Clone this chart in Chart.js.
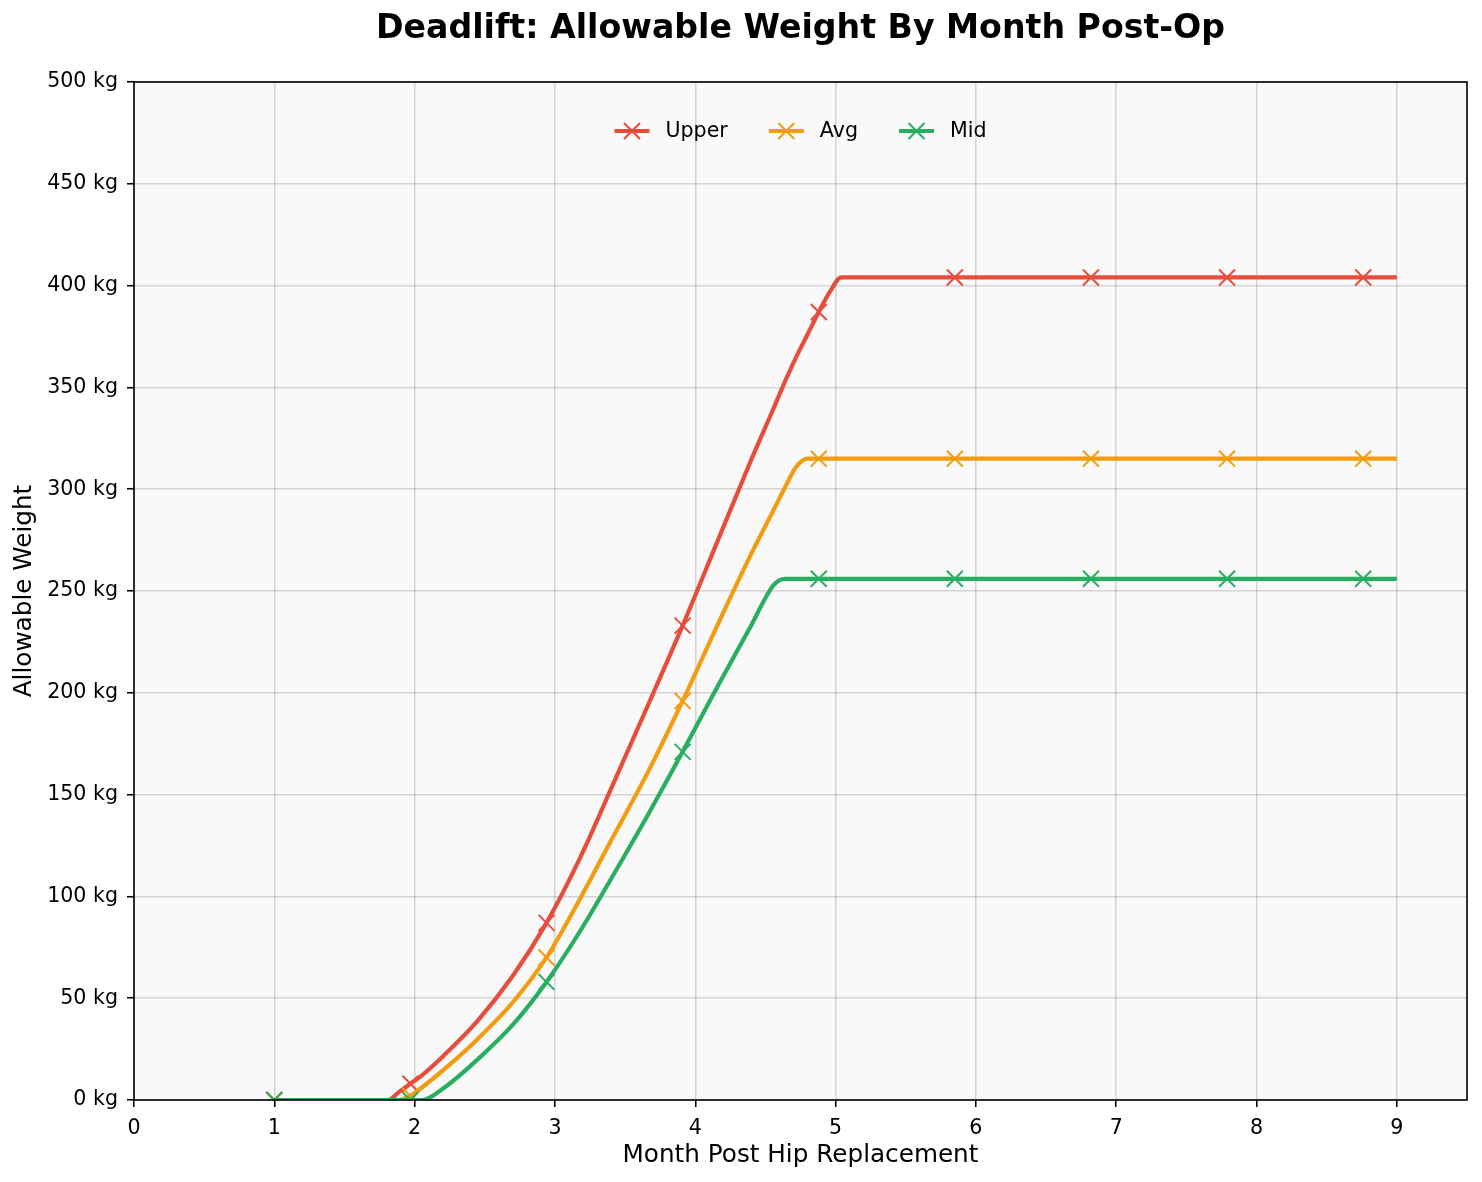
<!DOCTYPE html>
<html>
<head>
<meta charset="utf-8">
<script src="https://cdn.jsdelivr.net/npm/chart.js@4.4.1/dist/chart.umd.min.js"></script>
<style>
  html, body { margin: 0; padding: 0; background: #fff; }
  #wrap { width: 1482px; height: 1182px; position: relative; }
</style>
</head>
<body>
<div id="wrap"><canvas id="myChart"></canvas></div>
<script>
// months after surgery (x) and allowable weight in kg per line
const months  = [1.00, 1.81, 1.89, 1.97, 2.05, 2.21, 2.45, 2.70, 2.94, 3.18, 3.42, 3.67, 3.91, 4.15, 4.39, 4.56, 4.64, 4.72, 4.80, 4.88, 4.96, 5.04, 5.85, 6.82, 7.79, 8.76, 9.00];
const upperKg = [0, 0, 4, 8, 12, 22, 39, 61, 87, 119, 156, 195, 233, 273, 313, 340, 353, 365, 376, 387, 397, 404, 404, 404, 404, 404, 404];
const avgKg   = [0, 0, 0, 2, 6, 15, 30, 48, 70, 99, 130, 162, 196, 232, 267, 290, 301, 311, 315, 315, 315, 315, 315, 315, 315, 315, 315];
const midKg   = [0, 0, 0, 0, 0, 6, 20, 37, 58, 83, 111, 141, 171, 202, 232, 253, 256, 256, 256, 256, 256, 256, 256, 256, 256, 256, 256];
const markerMonths = [1.00, 1.97, 2.94, 3.91, 4.88, 5.85, 6.82, 7.79, 8.76];

const seriesNames = ['Upper', 'Avg', 'Mid'];
const seriesColors = ['#e74c3c', '#f39c12', '#27ae60'];

const FONT = 'DejaVu Sans';
const tickFont = { family: FONT, size: 20.6 };
const labelFont = { family: FONT, size: 24.7 };

function toPoints(values) {
    return months.map((m, i) => ({ x: m, y: values[i] }));
}
const markerRadius = months.map(m => markerMonths.includes(m) ? 11.3 : 0);

function makeDataset(idx, values) {
    return {
        label: seriesNames[idx],
        data: toPoints(values),
        borderColor: seriesColors[idx],
        backgroundColor: seriesColors[idx],
        borderWidth: 4.2,
        fill: false,
        cubicInterpolationMode: 'monotone',
        pointStyle: 'crossRot',
        pointRadius: markerRadius,
        pointHoverRadius: markerRadius,
        pointBorderWidth: 2,
        pointBorderColor: seriesColors[idx],
        order: 3 - idx
    };
}

const plotBg = {
    id: 'plotBg',
    beforeDraw(chart) {
        const { ctx, chartArea: a } = chart;
        ctx.save();
        ctx.fillStyle = '#f9f9f9';
        ctx.fillRect(a.left, a.top, a.right - a.left, a.bottom - a.top);
        ctx.restore();
    }
};

const frameAndText = {
    id: 'frameAndText',
    afterDatasetsDraw(chart) {
        const { ctx, chartArea: a } = chart;
        ctx.save();
        ctx.strokeStyle = '#000';
        ctx.lineWidth = 1.6;
        ctx.strokeRect(a.left, a.top, a.right - a.left, a.bottom - a.top);
        ctx.restore();
    },
    afterDraw(chart) {
        const { ctx, chartArea: a } = chart;
        ctx.save();
        // title
        ctx.fillStyle = '#000';
        ctx.font = 'bold 33.2px "' + FONT + '"';
        ctx.textAlign = 'center';
        ctx.textBaseline = 'middle';
        ctx.fillText('Deadlift: Allowable Weight By Month Post-Op', (a.left + a.right) / 2, 29);

        // legend inside the plot, top centre
        ctx.font = '20.6px "' + FONT + '"';
        const lineLen = 35, textGap = 16, entryGap = 41;
        const widths = seriesNames.map(n => ctx.measureText(n).width);
        let total = 0;
        widths.forEach((w, i) => { total += lineLen + textGap + w + (i < widths.length - 1 ? entryGap : 0); });
        let x = (a.left + a.right) / 2 - total / 2;
        const y = 131;
        seriesNames.forEach((name, i) => {
            ctx.strokeStyle = seriesColors[i];
            ctx.lineWidth = 4.2;
            ctx.beginPath();
            ctx.moveTo(x, y);
            ctx.lineTo(x + lineLen, y);
            ctx.stroke();
            const cx = x + lineLen / 2, r = 8;
            ctx.lineWidth = 2;
            ctx.beginPath();
            ctx.moveTo(cx - r, y - r); ctx.lineTo(cx + r, y + r);
            ctx.moveTo(cx - r, y + r); ctx.lineTo(cx + r, y - r);
            ctx.stroke();
            ctx.fillStyle = '#000';
            ctx.textAlign = 'left';
            ctx.fillText(name, x + lineLen + textGap, y + 1);
            x += lineLen + textGap + widths[i] + entryGap;
        });
        ctx.restore();
    }
};

const gridStyle = {
    color: 'rgba(0,0,0,0.15)',
    lineWidth: 1.5,
    tickColor: '#000',
    tickWidth: 1.6,
    tickLength: 7
};

document.addEventListener('DOMContentLoaded', function () {
    const ctx = document.getElementById('myChart').getContext('2d');
    new Chart(ctx, {
        type: 'line',
        data: {
            datasets: [makeDataset(0, upperKg), makeDataset(1, avgKg), makeDataset(2, midKg)]
        },
        options: {
            responsive: true,
            maintainAspectRatio: false,
            devicePixelRatio: 1,
            animation: false,
            layout: { padding: { top: 82, right: 15, left: 0, bottom: 0 } },
            plugins: {
                legend: { display: false },
                tooltip: { enabled: false }
            },
            scales: {
                x: {
                    type: 'linear',
                    min: 0,
                    max: 9.5,
                    afterBuildTicks: s => { s.ticks = s.ticks.filter(t => Number.isInteger(t.value)); },
                    afterFit: s => { s.height = 82; },
                    ticks: { stepSize: 1, font: tickFont, color: '#000', padding: 9, maxRotation: 0 },
                    grid: gridStyle,
                    border: { display: false },
                    title: {
                        display: true,
                        text: 'Month Post Hip Replacement',
                        font: labelFont,
                        color: '#000',
                        padding: { top: 0, bottom: 12 }
                    }
                },
                y: {
                    min: 0,
                    max: 500,
                    afterFit: s => { s.width = 134; },
                    ticks: {
                        stepSize: 50,
                        font: tickFont,
                        color: '#000',
                        padding: 9,
                        callback: v => v + ' kg'
                    },
                    grid: gridStyle,
                    border: { display: false },
                    title: {
                        display: true,
                        text: 'Allowable Weight',
                        font: labelFont,
                        color: '#000',
                        padding: { top: 10, bottom: 0 }
                    }
                }
            }
        },
        plugins: [plotBg, frameAndText]
    });
});
</script>
</body>
</html>
